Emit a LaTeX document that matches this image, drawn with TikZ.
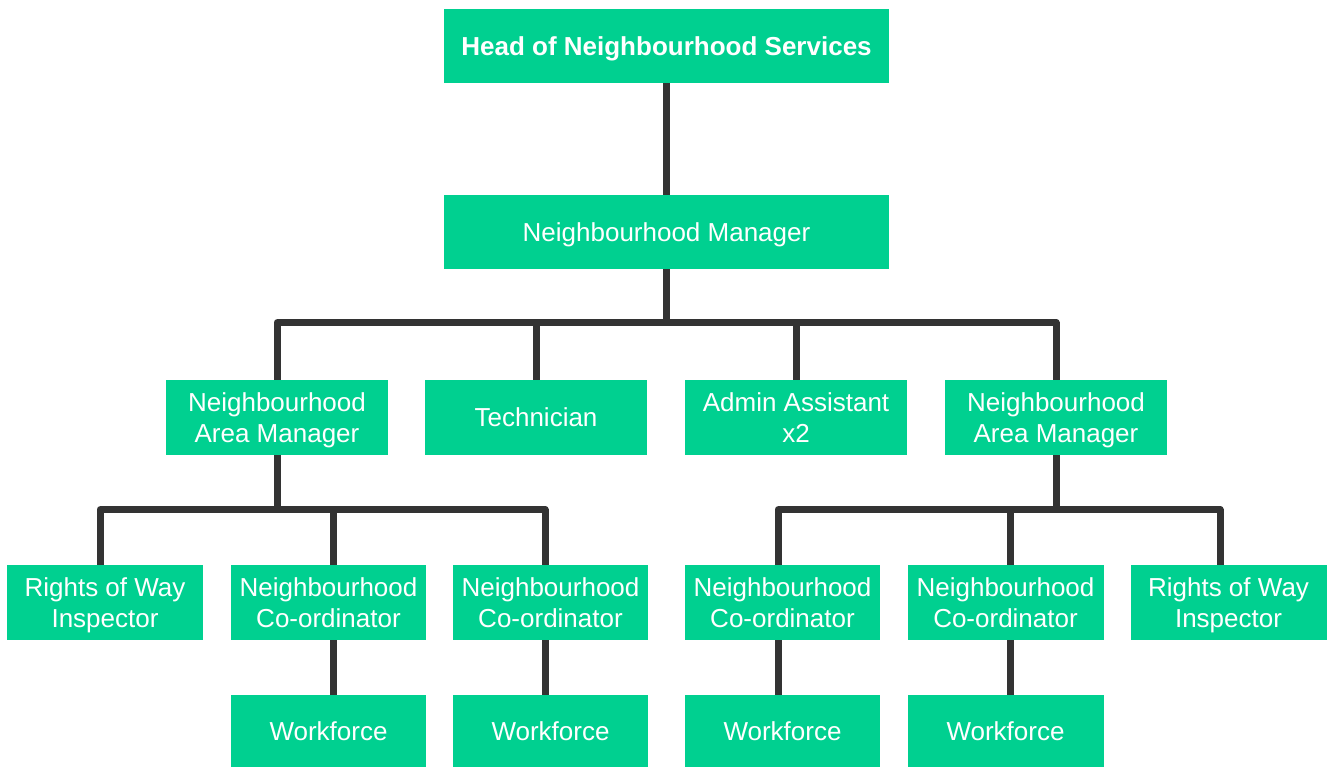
\documentclass[tikz,border=0pt]{standalone}
\usepackage{fontspec}
\setmainfont{Liberation Sans}
\usetikzlibrary{calc}
\definecolor{postgreen}{RGB}{0,208,144}
\definecolor{linkgray}{RGB}{51,51,51}

\tikzset{
    post/.style={fill=postgreen, text=white, align=center, inner sep=0pt, minimum height=1.5cm, text depth=-0.06cm, font=\fontsize{14.8}{17.6}\selectfont},
    headpost/.style={post, minimum width=8.9cm, minimum height=1.48cm},
    midpost/.style={post, minimum width=4.44cm},
    lowpost/.style={post, minimum width=3.92cm},
    workpost/.style={lowpost, minimum height=1.44cm},
    link/.style={draw=linkgray, line width=0.14cm, line join=round}
}

\begin{document}
\begin{tikzpicture}[x=0.02cm, y=-0.02cm]
        \useasboundingbox (0,0) rectangle (1327,767);

        % Top two posts
        \node[headpost] (head) at (666.5,46) {\textbf{Head of Neighbourhood Services}};
        \node[headpost] (mgr) at (666.5,232) {Neighbourhood Manager};

        % Second row
        \node[midpost] (nam1) at (277,417.5) {Neighbourhood \\ Area Manager};
        \node[midpost] (tech) at (536,417.5) {Technician};
        \node[midpost] (admin) at (796,417.5) {Admin Assistant \\ x2};
        \node[midpost] (nam2) at (1056,417.5) {Neighbourhood \\ Area Manager};

        % Third row
        \node[lowpost] (row1) at (105,602.5) {Rights of Way \\ Inspector};
        \node[lowpost] (nc1) at (328.5,602.5) {Neighbourhood \\ Co-ordinator};
        \node[lowpost] (nc2) at (550.5,602.5) {Neighbourhood \\ Co-ordinator};
        \node[lowpost] (nc3) at (782.5,602.5) {Neighbourhood \\ Co-ordinator};
        \node[lowpost] (nc4) at (1005.5,602.5) {Neighbourhood \\ Co-ordinator};
        \node[lowpost] (row2) at (1228.5,602.5) {Rights of Way \\ Inspector};

        % Bottom row
        \node[workpost] (wf1) at (328.5,731) {Workforce};
        \node[workpost] (wf2) at (550.5,731) {Workforce};
        \node[workpost] (wf3) at (782.5,731) {Workforce};
        \node[workpost] (wf4) at (1005.5,731) {Workforce};

        % Head to manager
        \draw[link] (head) -- (mgr);

        % Manager to second row
        \draw[link] (mgr.south) -- ++(0,54);
        \draw[link] (nam1.north) -- ++(0,-57) -| (nam2.north);
        \draw[link] (tech.north) -- ++(0,-57);
        \draw[link] (admin.north) -- ++(0,-57);

        % Left area manager
        \draw[link] (nam1.south) -- ++(0,55);
        \draw[link] ([xshift=-0.1cm]row1.north) -- ++(0,-55) -| ([xshift=-0.11cm]nc2.north);
        \draw[link] ([xshift=0.09cm]nc1.north) -- ++(0,-55);
        \draw[link] ([xshift=0.09cm]nc1.south) -- ([xshift=0.09cm]wf1.north);
        \draw[link] ([xshift=-0.11cm]nc2.south) -- ([xshift=-0.11cm]wf2.north);

        % Right area manager
        \draw[link] (nam2.south) -- ++(0,55);
        \draw[link] ([xshift=-0.09cm]nc3.north) -- ++(0,-55) -| ([xshift=-0.17cm]row2.north);
        \draw[link] ([xshift=0.09cm]nc4.north) -- ++(0,-55);
        \draw[link] ([xshift=-0.09cm]nc3.south) -- ([xshift=-0.09cm]wf3.north);
        \draw[link] ([xshift=0.09cm]nc4.south) -- ([xshift=0.09cm]wf4.north);
    \end{tikzpicture}
\end{document}
